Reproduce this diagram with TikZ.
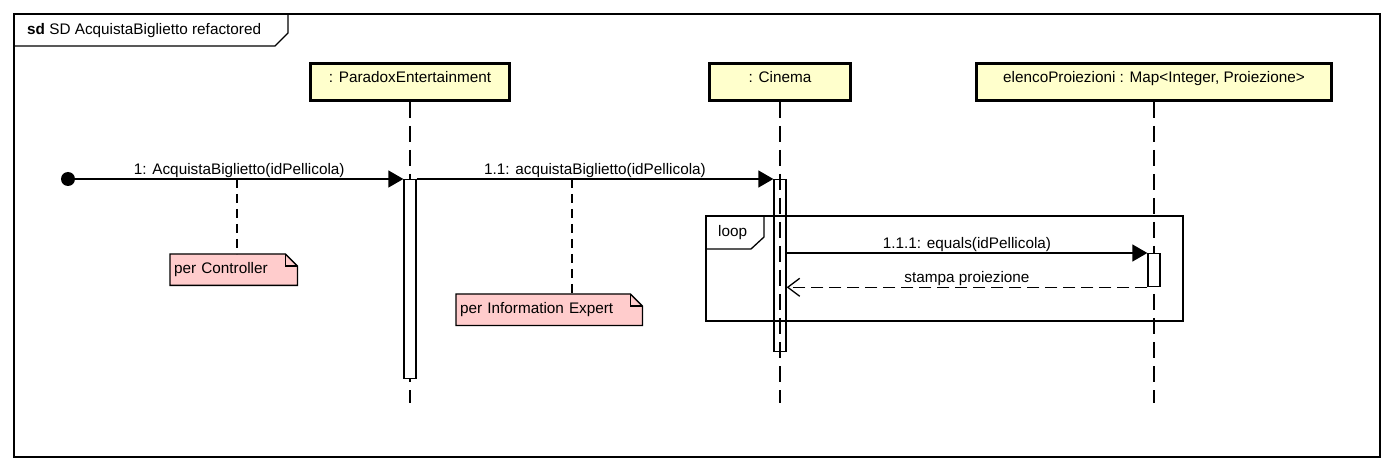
\documentclass[tikz,border=0pt]{standalone}
\usepackage{fontspec}
\setmainfont{Liberation Sans}
\usetikzlibrary{arrows.meta,backgrounds}

\begin{document}
\begin{tikzpicture}[x=1pt,y=-1pt,
  font=\fontsize{15.3pt}{18pt}\selectfont,
  thinLine/.style={draw=drawColor,line width=1.3pt},
  lifeHead/.style={draw=drawColor,line width=3pt,fill=headColor,minimum width=#1,minimum height=37pt,inner sep=0pt,text height=11pt,text depth=9pt,anchor=north},
  actBar/.style={draw=drawColor,line width=1.3pt,fill=white,minimum width=12pt,minimum height=#1,inner sep=0pt,anchor=north},
  lifeLine/.style={draw=drawColor,line width=1.3pt,dash pattern=on 16pt off 8pt},
  noteBox/.style={text width=#1,align=left,inner xsep=4pt,inner ysep=0pt,minimum height=31pt,anchor=north west},
  noteLink/.style={draw=drawColor,line width=1.3pt,dash pattern=on 9pt off 6pt},
  msgCall/.style={thinLine,-{Triangle[length=15pt,width=17pt]}},
  msgReturn/.style={thinLine,dash pattern=on 12pt off 6pt,-{Straight Barb[length=12pt,width=18pt,line width=1.3pt]}},
  msgLabel/.style={midway,above,inner sep=1pt}]
\definecolor{drawColor}{RGB}{0,0,0}
\definecolor{headColor}{RGB}{255,255,204}
\definecolor{noteColor}{RGB}{255,204,204}
\path[use as bounding box] (0,0) rectangle (1392,470);

\path[thinLine] (14,14) rectangle (1380,457);
\node[anchor=west,inner sep=0pt] (frameTag) at (27,31) {\textbf{sd} SD AcquistaBiglietto refactored};
\path[thinLine] (14,46) -- (275,46) -- (288,33) -- (288,14);

\node[lifeHead=199pt] (paradox) at (410,62) {: ParadoxEntertainment};
\node[lifeHead=141pt] (cinema) at (780,62) {: Cinema};
\node[lifeHead=355pt] (elenco) at (1154,62) {elencoProiezioni : Map<Integer, Proiezione>};

\coordinate (paradoxEnd) at (paradox.south |- 0,403);
\coordinate (cinemaEnd) at (cinema.south |- 0,403);
\coordinate (elencoEnd) at (elenco.south |- 0,403);
\path[lifeLine] (paradox.south) -- (paradoxEnd);
\path[lifeLine] (cinema.south) -- (cinemaEnd);
\path[lifeLine] (elenco.south) -- (elencoEnd);

\path[thinLine] (706,216) rectangle (1183,321);
\node[anchor=west,inner sep=0pt] (loopTag) at (718,233) {loop};
\path[thinLine] (706,249) -- (751,249) -- (764,237) -- (764,216);

\node[actBar=199pt] (actParadox) at (paradox.south |- 0,179) {};
\node[actBar=172pt,fill=none] (actCinema) at (cinema.south |- 0,179) {};
\node[actBar=33pt] (actElenco) at (elenco.south |- 0,253) {};

\node[circle,fill=drawColor,minimum size=14pt,inner sep=0pt] (start) at (68,179) {};

\path[msgCall] (start) -- (actParadox.north west) node[msgLabel] {1: AcquistaBiglietto(idPellicola)};
\path[msgCall] (actParadox.north east) -- (actCinema.north west) node[msgLabel] {1.1: acquistaBiglietto(idPellicola)};
\path[msgCall] (actCinema.east |- actElenco.north) -- (actElenco.north west) node[msgLabel] {1.1.1: equals(idPellicola)};
\path[msgReturn] (actElenco.south west) -- (actCinema.east |- actElenco.south) node[msgLabel] {stampa proiezione};

\coordinate (ctrlLink) at (237,179);
\node[noteBox=119pt] (noteCtrl) at (170,254) {per Controller};
\path[noteLink] (ctrlLink) -- (ctrlLink |- noteCtrl.north);

\coordinate (expertLink) at (572,179);
\node[noteBox=178pt] (noteExpert) at (456,294) {per Information Expert};
\path[noteLink] (expertLink) -- (expertLink |- noteExpert.north);

\begin{scope}[on background layer]
\path[thinLine,fill=noteColor] (noteCtrl.north west) -- ([xshift=-12pt]noteCtrl.north east) -- ([yshift=-12pt]noteCtrl.north east) -- (noteCtrl.south east) -- (noteCtrl.south west) -- cycle;
\path[thinLine,fill=noteColor] (noteExpert.north west) -- ([xshift=-12pt]noteExpert.north east) -- ([yshift=-12pt]noteExpert.north east) -- (noteExpert.south east) -- (noteExpert.south west) -- cycle;
\end{scope}
\path[thinLine] ([xshift=-12pt]noteCtrl.north east) -- ([xshift=-12pt,yshift=-12pt]noteCtrl.north east) -- ([yshift=-12pt]noteCtrl.north east);
\path[thinLine] ([xshift=-12pt]noteExpert.north east) -- ([xshift=-12pt,yshift=-12pt]noteExpert.north east) -- ([yshift=-12pt]noteExpert.north east);
\end{tikzpicture}
\end{document}
